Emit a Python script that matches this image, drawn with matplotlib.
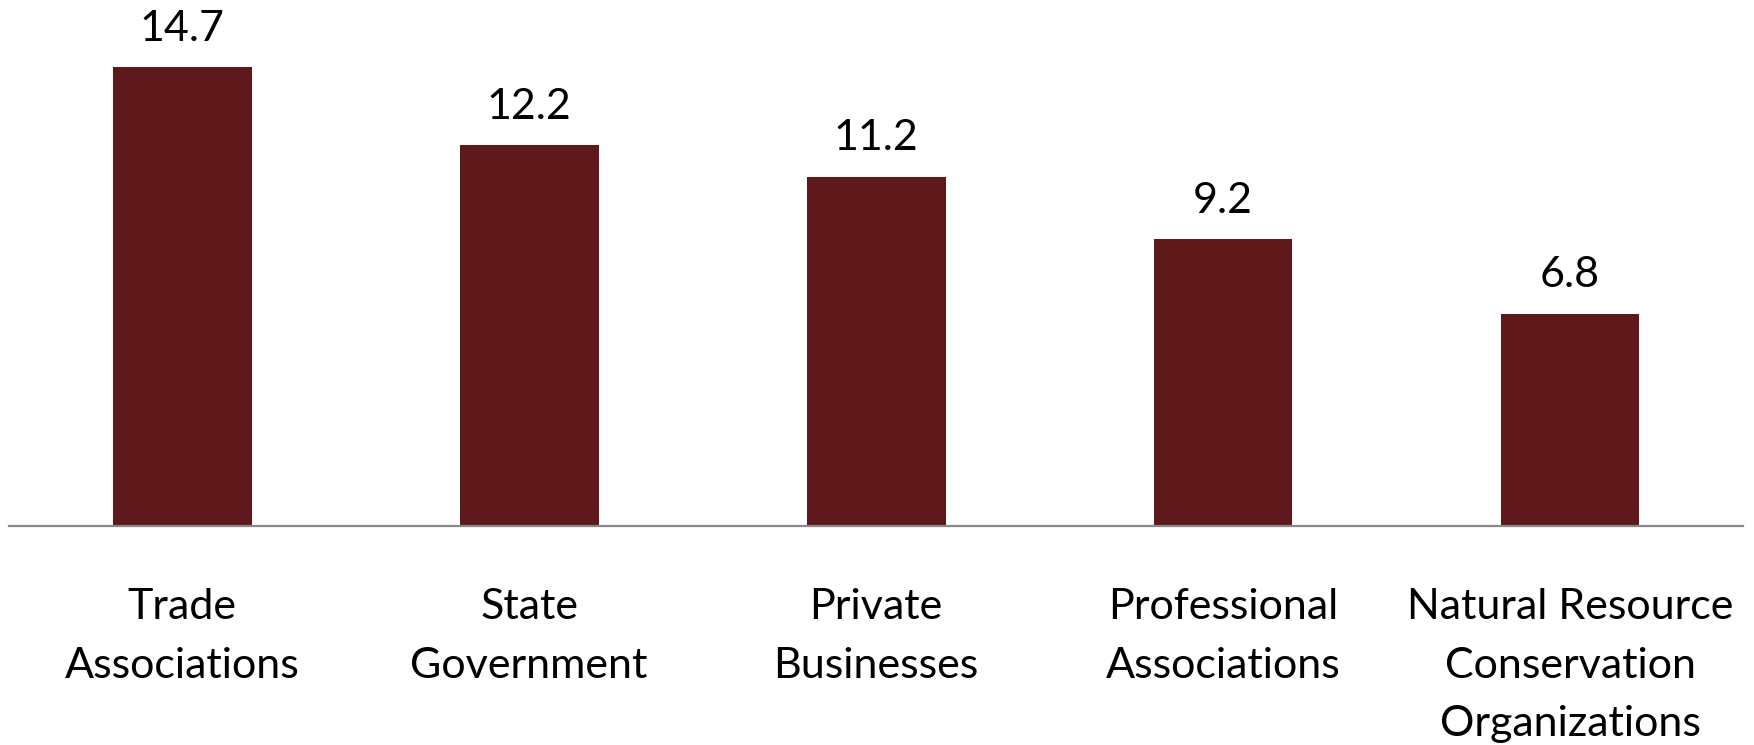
import numpy as np
import matplotlib
matplotlib.use("Agg")
import matplotlib.pyplot as plt

categories = ["Trade\nAssociations", "State\nGovernment", "Private\nBusinesses",
              "Professional\nAssociations", "Natural Resource\nConservation\nOrganizations"]
values = [14.7, 12.2, 11.2, 9.2, 6.8]

plt.rcParams['font.family'] = ['Lato', 'DejaVu Sans']

fig = plt.figure(figsize=(17.54, 7.45), dpi=100)
ax = fig.add_axes([0.005, 0.294, 0.989, 0.706])

x = np.arange(len(values))
bars = ax.bar(x, values, width=0.4, color='#5F181A')

for xi, v in zip(x, values):
    ax.text(xi, v + 0.62, f"{v:.1f}", ha='center', va='bottom', fontsize=31, color='black')

ax.set_xlim(-0.5, 4.5)
ax.set_ylim(0, 16.86)
ax.set_yticks([])
ax.set_xticks(x)
ax.set_xticklabels(categories, fontsize=31, linespacing=1.66, va='top')
ax.tick_params(axis='x', length=0, pad=45)

for side in ['top', 'right', 'left']:
    ax.spines[side].set_visible(False)
ax.spines['bottom'].set_color('#898989')
ax.spines['bottom'].set_linewidth(1.6)

fig.savefig("out.png", dpi=100)
